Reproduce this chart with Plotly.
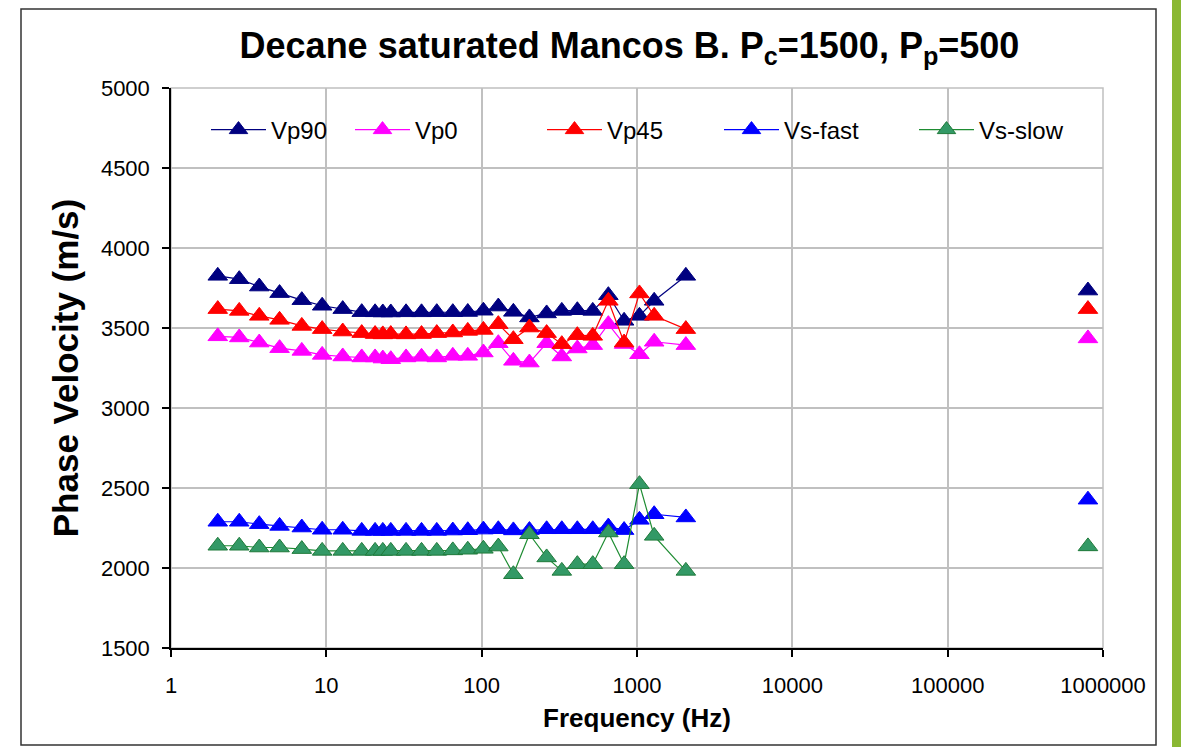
import plotly.graph_objects as go

# ---- data ----
freq_hz = [2.0, 2.75, 3.7, 5.0, 6.95, 9.4, 12.75, 16.9, 20.6, 23.1, 26.0, 32.6, 41.0,
           51.4, 65.2, 81.4, 102.6, 128, 160, 203, 262, 328, 413, 519, 654, 826,
           1037, 1290, 2063]
ultra_freq_hz = 800000

vp90 = [3826, 3805, 3759, 3718, 3674, 3639, 3618, 3599, 3598, 3597, 3597, 3598, 3598,
        3599, 3599, 3600, 3608, 3634, 3601, 3566, 3591, 3607, 3611, 3607, 3705, 3545,
        3576, 3670, 3826]
vp0 = [3448, 3441, 3409, 3374, 3357, 3332, 3322, 3316, 3316, 3309, 3305, 3316, 3320,
       3316, 3326, 3326, 3347, 3405, 3295, 3284, 3405, 3322, 3372, 3393, 3524, 3400,
       3336, 3414, 3393]
vp45 = [3618, 3607, 3576, 3551, 3513, 3493, 3478, 3468, 3462, 3460, 3462, 3460, 3462,
        3468, 3472, 3482, 3488, 3524, 3430, 3503, 3468, 3399, 3455, 3451, 3670, 3409,
        3716, 3576, 3493]
vs_fast = [2289, 2289, 2274, 2263, 2253, 2239, 2239, 2232, 2232, 2232, 2232, 2232, 2232,
           2232, 2234, 2236, 2240, 2242, 2235, 2237, 2242, 2242, 2242, 2242, 2259, 2237,
           2301, 2336, 2316]
vs_slow = [2139, 2139, 2128, 2128, 2118, 2107, 2107, 2107, 2107, 2107, 2107, 2107, 2107,
           2107, 2110, 2114, 2120, 2134, 1961, 2211, 2066, 1982, 2024, 2024, 2222, 2024,
           2524, 2201, 1982]

ultra = {"Vp90": 3734, "Vp0": 3435, "Vp45": 3618, "Vs-fast": 2427, "Vs-slow": 2135}

series_names = ["Vp90", "Vp0", "Vp45", "Vs-fast", "Vs-slow"]
series_values = [vp90, vp0, vp45, vs_fast, vs_slow]
line_colors = ["#000080", "#FF00FF", "#FF0000", "#0000FF", "#1E8C32"]
marker_colors = ["#000080", "#FF00FF", "#FF0000", "#0000FF", "#339966"]
marker_edge = ["#000080", "#FF00FF", "#FF0000", "#0000FF", "#1F7A3A"]

x_tickvals = [1, 10, 100, 1000, 10000, 100000, 1000000]
x_ticktext = ["1", "10", "100", "1000", "10000", "100000", "1000000"]
y_tickvals = [1500, 2000, 2500, 3000, 3500, 4000, 4500, 5000]

FONT = "Liberation Sans, Arial, sans-serif"

W, H = 1181, 747
ml, mr, mt, mb = 171, 78, 88, 99
pw, ph = W - ml - mr, H - mt - mb


def px_x(p):
    return (p - ml) / pw


def px_y(p):
    return (H - mb - p) / ph


# left edge (px) of each legend entry
legend_left_px = [206, 350, 542, 719, 914]
legend_ids = ["legend", "legend2", "legend3", "legend4", "legend5"]

fig = go.Figure()
for name, vals, lc, mc, me, lid in zip(series_names, series_values, line_colors,
                                       marker_colors, marker_edge, legend_ids):
    xs = freq_hz + [None, ultra_freq_hz]
    ys = vals + [None, ultra[name]]
    fig.add_trace(go.Scatter(
        x=xs, y=ys, name=name, mode="lines+markers",
        connectgaps=False, legend=lid,
        line=dict(color=lc, width=1.2),
        marker=dict(symbol="triangle-up", size=17, color=mc,
                    line=dict(color=me, width=1)),
    ))

legend_common = dict(
    orientation="h", yanchor="middle", xanchor="left",
    bgcolor="rgba(0,0,0,0)", font=dict(size=24, family=FONT, color="black"),
    itemwidth=55, itemclick=False, borderwidth=0,
)
layout_legends = {}
for lid, lx in zip(legend_ids, legend_left_px):
    layout_legends[lid] = dict(legend_common, x=px_x(lx), y=px_y(130))

fig.update_layout(
    width=W, height=H,
    margin=dict(l=ml, r=mr, t=mt, b=mb),
    paper_bgcolor="white", plot_bgcolor="white",
    font=dict(family=FONT, color="black"),
    title=dict(
        text="<b>Decane saturated Mancos B. P<sub>c</sub>=1500, P<sub>p</sub>=500</b>",
        font=dict(size=36, family=FONT, color="black"),
        x=0.533, xref="container", xanchor="center",
        y=1 - 45 / H, yref="container", yanchor="middle",
    ),
    showlegend=True,
    **layout_legends,
)

fig.update_xaxes(
    type="log", range=[0, 6],
    tickvals=x_tickvals, ticktext=x_ticktext,
    tickfont=dict(size=22, family=FONT, color="black"),
    ticks="outside", ticklen=7, tickcolor="black", tickwidth=1.5,
    ticklabelstandoff=10,
    showline=True, linecolor="black", linewidth=1.5,
    showgrid=True, gridcolor="#C0C0C0", gridwidth=1.5,
    title=dict(text="<b>Frequency (Hz)</b>", font=dict(size=26, family=FONT, color="black"),
               standoff=12),
)
fig.update_yaxes(
    range=[1500, 5000], tickvals=y_tickvals,
    tickfont=dict(size=22, family=FONT, color="black"),
    ticks="outside", ticklen=7, tickcolor="black", tickwidth=1.5,
    ticklabelstandoff=8,
    showline=True, linecolor="black", linewidth=1.5,
    showgrid=True, gridcolor="#C0C0C0", gridwidth=1.5,
    title=dict(text="<b>Phase Velocity (m/s)</b>", font=dict(size=35, family=FONT, color="black"),
               standoff=12),
)

# white legend box covering gridlines (between grid and traces)
fig.add_shape(type="rect", xref="paper", yref="paper",
              x0=px_x(204), x1=px_x(1101), y0=px_y(150), y1=px_y(110),
              line=dict(width=0), fillcolor="white", layer="between")

# plot-area frame (grey top/right edges)
fig.add_shape(type="rect", xref="paper", yref="paper", x0=0, y0=0, x1=1, y1=1,
              line=dict(color="#C0C0C0", width=1.5), layer="below")

# outer chart frame and green page strip (decoration)
fig.add_shape(type="rect", xref="paper", yref="paper",
              x0=px_x(21), x1=px_x(1156), y0=px_y(745), y1=px_y(9),
              line=dict(color="#333333", width=1.5), layer="below")
fig.add_shape(type="rect", xref="paper", yref="paper",
              x0=px_x(1172), x1=px_x(1182), y0=px_y(748), y1=px_y(-1),
              line=dict(width=0), fillcolor="#8AB833", layer="below")

fig.write_html("out.html")
